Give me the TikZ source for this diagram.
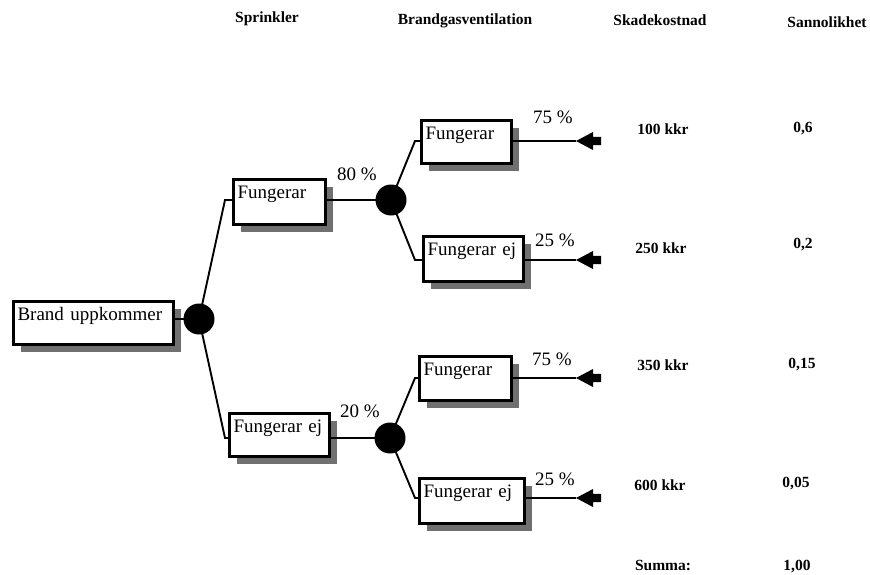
\documentclass[tikz,border=0pt]{standalone}
\usepackage{fontspec}
\setmainfont{Liberation Serif}
\usetikzlibrary{shadows}
\definecolor{shadowgray}{RGB}{112,112,112}
\begin{document}
\begin{tikzpicture}[x=1pt,y=-1pt,
  every node/.style={inner sep=0pt},
  box/.style={draw,line width=3pt,fill=white,anchor=north west,
    inner xsep=4pt,inner ysep=2pt,text height=17pt,align=left,
    font=\fontsize{19}{22}\selectfont,
    drop shadow={shadow xshift=7pt,shadow yshift=-7pt,fill=shadowgray,opacity=1}},
  chance/.style={circle,fill=black,minimum size=31pt},
  edge/.style={line width=1.9pt},
  pct/.style={anchor=base,font=\fontsize{19}{22}\selectfont},
  head/.style={anchor=base,font=\fontsize{15.5}{18}\selectfont\bfseries},
  val/.style={anchor=base,font=\fontsize{15.5}{18}\selectfont\bfseries},
  endmark/.pic={\fill (0,0) -- (17,-9) -- (17,-4.2) -- (25,-4.2) -- (25,4.2) -- (17,4.2) -- (17,9) -- cycle;}
]
\useasboundingbox (0,0) rectangle (870,574);

% column headings
\node[head] (hSpr) at (267,22) {Sprinkler};
\node[head] (hBgv) at (465,24) {Brandgasventilation};
\node[head] (hKost) at (660,25) {Skadekostnad};
\node[head] (hSann) at (827,27) {Sannolikhet};

% decision boxes
\node[box,text width=152pt,text depth=22pt] (b0) at (12,300) {Brand uppkommer};
\node[box,text width=84pt,text depth=24pt] (s1) at (232,178) {Fungerar};
\node[box,text width=92pt,text depth=22pt] (s2) at (228,412) {Fungerar ej};
\node[box,text width=82pt,text depth=22pt] (g1) at (420,119) {Fungerar};
\node[box,text width=92pt,text depth=24pt] (g2) at (422,235) {Fungerar ej};
\node[box,text width=84pt,text depth=23pt] (g3) at (418,355) {Fungerar};
\node[box,text width=97pt,text depth=24pt] (g4) at (418,477) {Fungerar ej};

% chance nodes
\node[chance] (c1) at (199,319) {};
\node[chance] (c2) at (391,200) {};
\node[chance] (c3) at (390,438) {};

% branch corners
\coordinate (v1) at (225,200);
\coordinate (v2) at (225,438);
\coordinate (v3) at (415,141);
\coordinate (v4) at (415,260);
\coordinate (v5) at (415,378);
\coordinate (v6) at (415,498);

% outcome ends
\coordinate (t1) at (576,141);
\coordinate (t2) at (576,260);
\coordinate (t3) at (576,378);
\coordinate (t4) at (576,498);

% branches
\draw[edge] (c1.center) -- (c1 -| b0.east);
\draw[edge] (c1.center) -- (v1) -- (v1 -| s1.west);
\draw[edge] (c1.center) -- (v2) -- (v2 -| s2.west);
\draw[edge] (c2.center) -- (c2 -| s1.east);
\draw[edge] (c3.center) -- (c3 -| s2.east);
\draw[edge] (c2.center) -- (v3) -- (v3 -| g1.west);
\draw[edge] (c2.center) -- (v4) -- (v4 -| g2.west);
\draw[edge] (c3.center) -- (v5) -- (v5 -| g3.west);
\draw[edge] (c3.center) -- (v6) -- (v6 -| g4.west);

\draw[edge] (t1 -| g1.east) -- (t1);
\draw[edge] (t2 -| g2.east) -- (t2);
\draw[edge] (t3 -| g3.east) -- (t3);
\draw[edge] (t4 -| g4.east) -- (t4);
\pic at (t1) {endmark};
\pic at (t2) {endmark};
\pic at (t3) {endmark};
\pic at (t4) {endmark};

% branch probabilities
\node[pct] (p1) at (357,180) {80 \%};
\node[pct] (p2) at (360,417) {20 \%};
\node[pct] (p3) at (553,123) {75 \%};
\node[pct] (p4) at (555,246) {25 \%};
\node[pct] (p5) at (552,365) {75 \%};
\node[pct] (p6) at (555,485) {25 \%};

% damage costs
\node[val] (k1) at (663,134) {100 kkr};
\node[val] (k2) at (661,253) {250 kkr};
\node[val] (k3) at (663,370) {350 kkr};
\node[val] (k4) at (660,490) {600 kkr};
\node[val] (ksum) at (663,570) {Summa:};

% probabilities
\node[val] (q1) at (803,132) {0,6};
\node[val] (q2) at (803,248) {0,2};
\node[val] (q3) at (802,368) {0,15};
\node[val] (q4) at (796,487) {0,05};
\node[val] (qsum) at (797,570) {1,00};
\end{tikzpicture}
\end{document}
